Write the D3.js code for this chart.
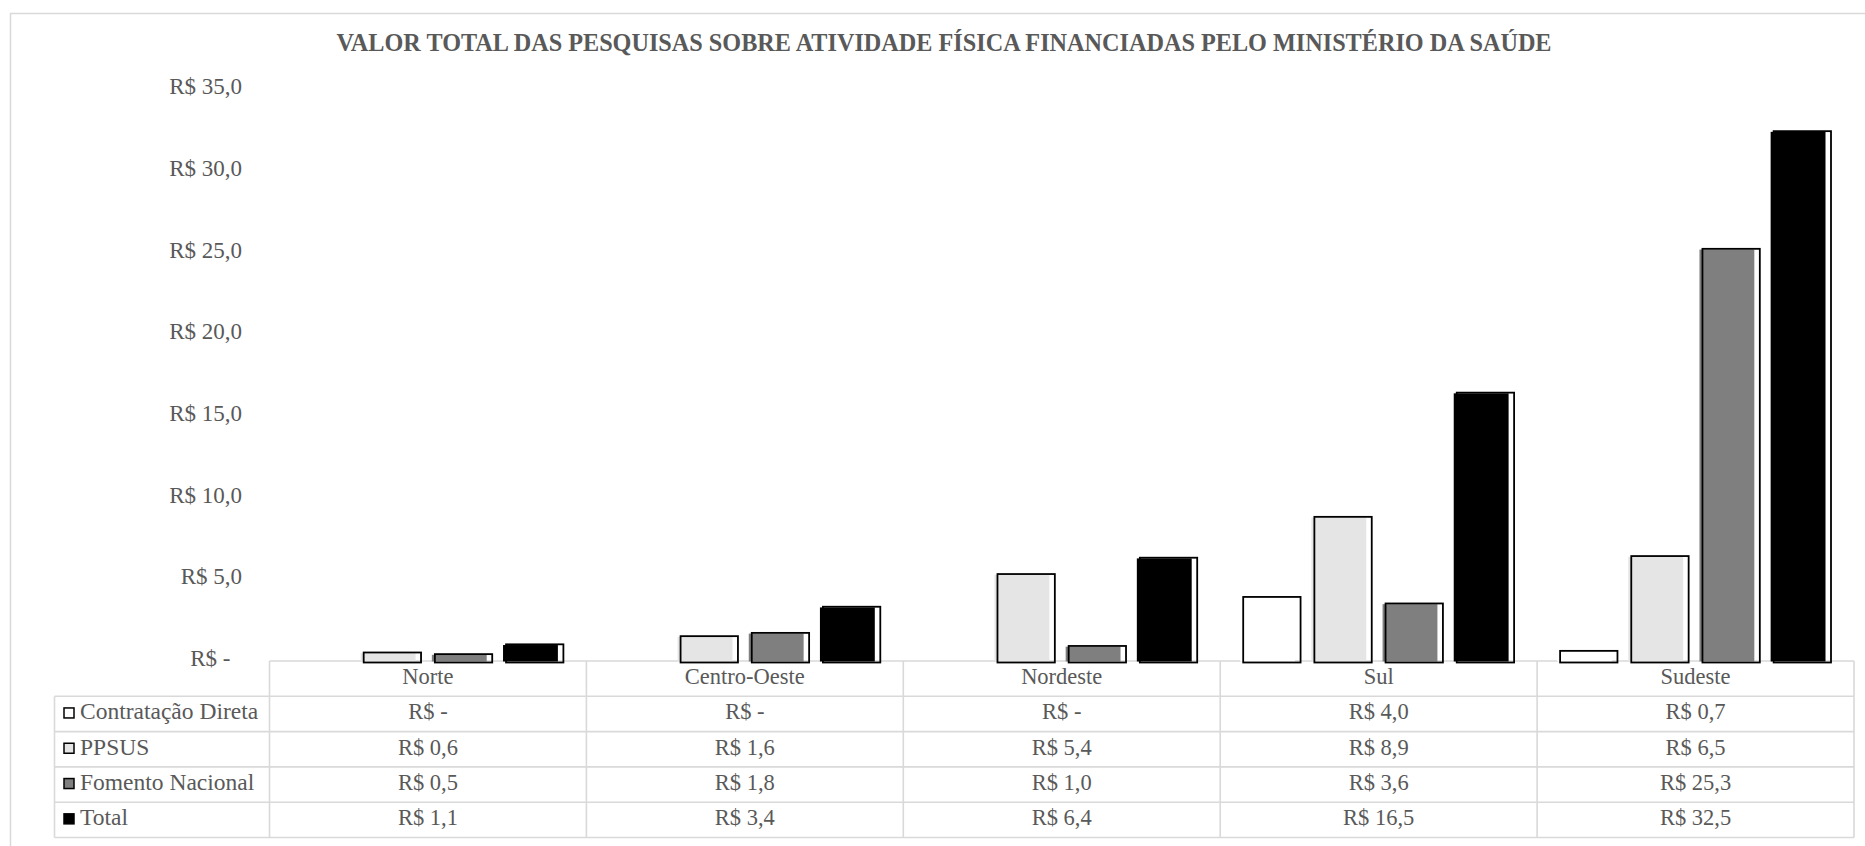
<!DOCTYPE html>
<html>
<head>
<meta charset="utf-8">
<script src="https://cdn.jsdelivr.net/npm/d3@7"></script>
<style>
  html, body { margin: 0; padding: 0; background: #fff; }
  svg { display: block; }
</style>
</head>
<body>
<svg id="chart" width="1865" height="846"></svg>
<script>
// Regions (categories) and the value of each funding line, in millions of R$
const categories = ["Norte", "Centro-Oeste", "Nordeste", "Sul", "Sudeste"];
const seriesNames = ["Contratação Direta", "PPSUS", "Fomento Nacional", "Total"];
const contratacaoDireta = [0, 0, 0, 4.0, 0.7];
const ppsus = [0.6, 1.6, 5.4, 8.9, 6.5];
const fomentoNacional = [0.5, 1.8, 1.0, 3.6, 25.3];
const total = [1.1, 3.4, 6.4, 16.5, 32.5];
const yTicks = [0, 5, 10, 15, 20, 25, 30, 35];
const titleText = "VALOR TOTAL DAS PESQUISAS SOBRE ATIVIDADE FÍSICA FINANCIADAS PELO MINISTÉRIO DA SAÚDE";

const seriesValues = [contratacaoDireta, ppsus, fomentoNacional, total];
const seriesFill = ["#ffffff", "#e5e5e5", "#7f7f7f", "#000000"];

const FONT = "'Liberation Serif', 'Times New Roman', serif";
const TEXT_COLOR = "#595959";

const svg = d3.select("#chart");
const W = 1865, H = 846;

// layout
const plotLeft = 269.5, plotRight = 1854;
const baseY = 661.5, topY = 89.5;
const rowH = 35.3;
const legendLeft = 54.5;
const lineColor = "#d9d9d9";

// outer chart frame
svg.append("rect")
  .attr("x", 10.5).attr("y", 13.5)
  .attr("width", W).attr("height", H)
  .attr("fill", "none").attr("stroke", lineColor).attr("stroke-width", 1.5);

// title, sized to span the heading width
const title = svg.append("text")
  .attr("x", 944).attr("y", 51)
  .attr("text-anchor", "middle")
  .style("font-family", FONT)
  .style("font-weight", "bold")
  .style("font-size", "22px")
  .attr("fill", TEXT_COLOR)
  .text(titleText);
const tw = title.node().getComputedTextLength();
if (tw > 0) title.style("font-size", (22 * 1215 / tw).toFixed(2) + "px");

// scales
const x0 = d3.scaleBand().domain(categories).range([plotLeft, plotRight]).padding(0);
const x1 = d3.scaleBand().domain(seriesNames)
  .range([22, x0.bandwidth() - 23]).paddingInner(0.18).paddingOuter(0);
const y = d3.scaleLinear().domain([0, 35]).range([baseY, topY]);

const fmt = v => v === 0 ? "R$ -" : "R$ " + d3.format(".1f")(v).replace(".", ",");

// value axis (labels only)
const yAxis = d3.axisLeft(y)
  .tickValues(yTicks)
  .tickSize(0)
  .tickPadding(0)
  .tickFormat(d => d === 0 ? "R$ -\u00a0\u00a0" : fmt(d));
const gy = svg.append("g").attr("transform", "translate(242,0)").call(yAxis);
gy.select(".domain").remove();
gy.attr("font-family", null).attr("font-size", null);
gy.selectAll("text")
  .attr("dy", "0.18em")
  .style("font-size", "23px");

// data table grid
const table = svg.append("g");
const rowsTop = baseY - 0.5;
const rowY = i => rowsTop + i * rowH; // i = 0 header top, 1..5
table.append("line")
  .attr("x1", plotLeft).attr("x2", plotRight)
  .attr("y1", rowY(0)).attr("y2", rowY(0));
for (let i = 1; i <= 5; i++) {
  table.append("line")
    .attr("x1", legendLeft).attr("x2", plotRight)
    .attr("y1", rowY(i)).attr("y2", rowY(i));
}
table.append("line").attr("x1", legendLeft).attr("x2", legendLeft)
  .attr("y1", rowY(1)).attr("y2", rowY(5));
const colEdges = categories.map(c => x0(c)).concat([plotRight]);
colEdges.forEach(xe => {
  table.append("line").attr("x1", xe).attr("x2", xe)
    .attr("y1", rowY(0)).attr("y2", rowY(5));
});
table.selectAll("line").attr("stroke", lineColor).attr("stroke-width", 1.6);

const textShift = 5.5;

// category header
svg.append("g").selectAll("text")
  .data(categories).join("text")
  .attr("x", d => x0(d) + x0.bandwidth() / 2)
  .attr("y", rowY(0) + rowH / 2 + textShift)
  .attr("text-anchor", "middle")
  .style("font-size", "22.5px")
  .text(d => d);

// legend cells and values
seriesNames.forEach((name, si) => {
  const cy = rowY(si + 1) + rowH / 2;
  svg.append("rect")
    .attr("x", 64).attr("y", cy - 6)
    .attr("width", 10).attr("height", 10)
    .attr("fill", seriesFill[si]).attr("stroke", "#000").attr("stroke-width", 1.5);
  svg.append("text")
    .attr("x", 80).attr("y", cy + textShift)
    .style("font-size", "23.5px")
    .text(name);
  svg.append("g").selectAll("text")
    .data(seriesValues[si]).join("text")
    .attr("x", (d, ci) => x0(categories[ci]) + x0.bandwidth() / 2)
    .attr("y", cy + textShift)
    .attr("text-anchor", "middle")
    .style("font-size", "22.5px")
    .text(d => fmt(d));
});

// bars: offset fill with a black outline
const bars = [];
seriesNames.forEach((name, si) => {
  categories.forEach((cat, ci) => {
    bars.push({ name, si, cat, v: seriesValues[si][ci] });
  });
});
const barData = bars.filter(d => d.v > 0);
const bw = x1.bandwidth();
const gBars = svg.append("g");
const bar = gBars.selectAll("g.bar").data(barData).join("g").attr("class", "bar")
  .attr("transform", d => `translate(${x0(d.cat) + x1(d.name)},0)`);
bar.append("rect")
  .attr("x", -2)
  .attr("y", d => y(d.v) + 1.5)
  .attr("width", bw - 3.5)
  .attr("height", d => baseY - y(d.v) - 1.5)
  .attr("fill", d => seriesFill[d.si]);
bar.append("rect")
  .attr("x", 1)
  .attr("y", d => y(d.v) + 0.8)
  .attr("width", bw - 1)
  .attr("height", d => baseY + 0.2 - y(d.v))
  .attr("fill", "none")
  .attr("stroke", "#000")
  .attr("stroke-width", 1.8);

// every label uses the serif face in grey
svg.selectAll("text")
  .style("font-family", FONT)
  .attr("fill", TEXT_COLOR);
</script>
</body>
</html>
